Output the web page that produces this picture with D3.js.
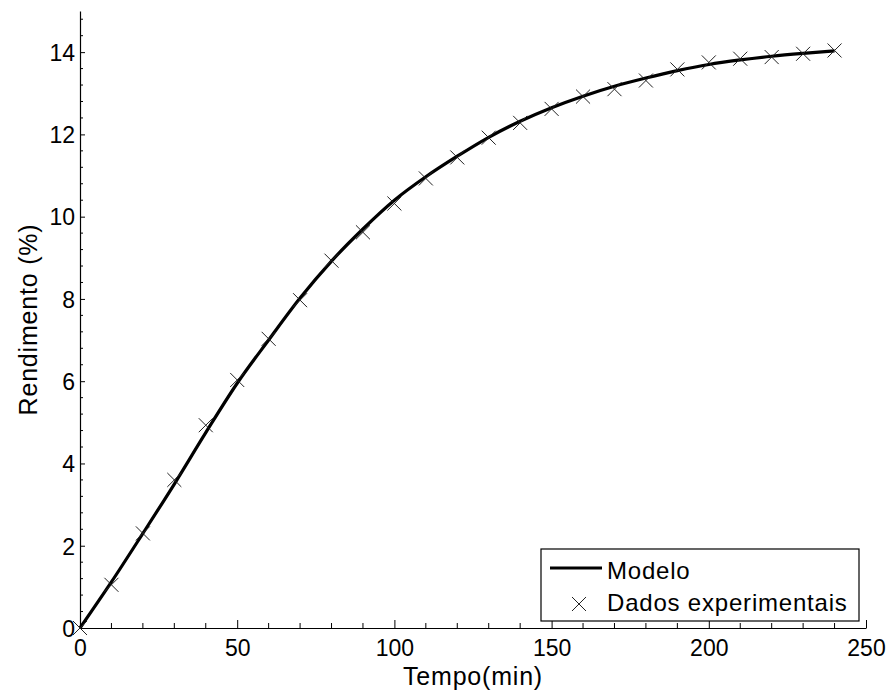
<!DOCTYPE html>
<html>
    <head>
        <title>Rendimento x Tempo</title>
        <script src="https://d3js.org/d3.v7.min.js"></script>
        <style>
            body { margin: 0; background: white; }
            text { font-family: 'Liberation Sans', Arial, sans-serif; fill: black; }
            .tick-label { font-size: 23px; }
            .axis-label { font-size: 25px; letter-spacing: 0.8px; }
            .legend-text { font-size: 24px; letter-spacing: 0.8px; }
        </style>
    </head>
    <body>
        <svg id='canvas' width=892 height=690></svg>
        <script>
            // tempo (min) of each experimental sample
            const tempo = [0, 10, 20, 30, 40, 50, 60, 70, 80, 90, 100, 110, 120,
                           130, 140, 150, 160, 170, 180, 190, 200, 210, 220, 230, 240]
            // dados experimentais, rendimento (%)
            const dados = [0, 1.05, 2.3, 3.6, 4.93, 6.03, 7.03, 7.97, 8.93, 9.62, 10.32, 10.93, 11.44,
                           11.92, 12.28, 12.62, 12.92, 13.1, 13.31, 13.58, 13.75, 13.84, 13.88, 13.96, 14.04]
            // modelo, rendimento (%) at the same times
            const modelo = [0, 1.12, 2.3, 3.5, 4.75, 5.95, 7.0, 8.02, 8.92, 9.7, 10.4, 10.97, 11.47,
                            11.93, 12.32, 12.65, 12.93, 13.17, 13.37, 13.55, 13.7, 13.81, 13.9, 13.97, 14.03]

            const xTicks = [0, 50, 100, 150, 200, 250]
            const yTicks = [0, 2, 4, 6, 8, 10, 12, 14]

            const svg = d3.select('#canvas')

            // plot area in pixels
            const plot = { left: 80, right: 866, top: 11, bottom: 628 }

            const xScale = d3.scaleLinear().domain([0, 250]).range([plot.left, plot.right])
            const yScale = d3.scaleLinear().domain([0, 15]).range([plot.bottom, plot.top])

            // minor ticks (inward)
            const xMinor = d3.range(0, 251, 10).filter(v => v % 50 !== 0)
            const yMinor = d3.range(0, 15.01, 0.4).map(v => +v.toFixed(1)).filter(v => v % 2 !== 0)

            const axes = svg.append('g')

            // x axis
            const xAxis = d3.axisBottom(xScale).tickValues(xTicks).tickSizeInner(-8).tickSizeOuter(0)
                .tickFormat(d3.format('d'))
            const gx = axes.append('g').attr('transform', `translate(0, ${plot.bottom})`).call(xAxis)
            gx.attr('font-size', null).attr('font-family', null)
            gx.selectAll('.tick text').attr('class', 'tick-label').attr('y', 12).attr('dy', '0.71em')
            gx.selectAll('line.minor').data(xMinor).enter().append('line')
                .attr('x1', d => xScale(d)).attr('x2', d => xScale(d))
                .attr('y1', 0).attr('y2', -5).attr('stroke', 'black')

            // y axis
            const yAxis = d3.axisLeft(yScale).tickValues(yTicks).tickSizeInner(-5).tickSizeOuter(0)
                .tickFormat(d3.format('d'))
            const gy = axes.append('g').attr('transform', `translate(${plot.left}, 0)`).call(yAxis)
            gy.attr('font-size', null).attr('font-family', null)
            gy.selectAll('.tick text').attr('class', 'tick-label').attr('x', -5).attr('dy', '0.36em')
            gy.selectAll('line.minor').data(yMinor).enter().append('line')
                .attr('x1', 0).attr('x2', 3)
                .attr('y1', d => yScale(d)).attr('y2', d => yScale(d)).attr('stroke', 'black')

            axes.selectAll('.domain').attr('stroke', 'black').attr('stroke-width', 1.2)

            // modelo line
            const points = tempo.map((t, i) => [t, modelo[i]])
            const line = d3.line()
                .x(d => xScale(d[0]))
                .y(d => yScale(d[1]))
                .curve(d3.curveMonotoneX)
            svg.append('path')
                .datum(points)
                .attr('d', line)
                .attr('fill', 'none')
                .attr('stroke', 'black')
                .attr('stroke-width', 3.2)

            // crosses for dados experimentais
            const cross = d3.symbol().type(d3.symbolX).size(130)
            svg.append('g').selectAll('path')
                .data(tempo.map((t, i) => [t, dados[i]]))
                .enter()
                .append('path')
                    .attr('d', cross)
                    .attr('transform', d => `translate(${xScale(d[0])}, ${yScale(d[1])})`)
                    .attr('fill', 'none')
                    .attr('stroke', '#222')
                    .attr('stroke-width', 1)

            // axis labels
            svg.append('text').text('Tempo(min)')
                .attr('x', (plot.left + plot.right) / 2)
                .attr('y', 685)
                .attr('text-anchor', 'middle')
                .classed('axis-label', true)

            svg.append('text').text('Rendimento (%)')
                .attr('transform', `translate(37, ${(plot.top + plot.bottom) / 2}) rotate(-90)`)
                .attr('text-anchor', 'middle')
                .classed('axis-label', true)

            // legend
            const legend = svg.append('g').attr('transform', 'translate(541, 549)')
            legend.append('rect')
                .attr('width', 318).attr('height', 72)
                .attr('fill', 'white').attr('stroke', 'black').attr('stroke-width', 1.2)
            legend.append('line')
                .attr('x1', 9).attr('x2', 61).attr('y1', 19).attr('y2', 19)
                .attr('stroke', 'black').attr('stroke-width', 3.2)
            legend.append('text').text('Modelo')
                .attr('x', 66).attr('y', 30).classed('legend-text', true)
            legend.append('path')
                .attr('d', cross)
                .attr('transform', 'translate(38, 55)')
                .attr('fill', 'none').attr('stroke', '#222').attr('stroke-width', 1)
            legend.append('text').text('Dados experimentais')
                .attr('x', 66).attr('y', 62).classed('legend-text', true)
        </script>
    </body>
</html>
